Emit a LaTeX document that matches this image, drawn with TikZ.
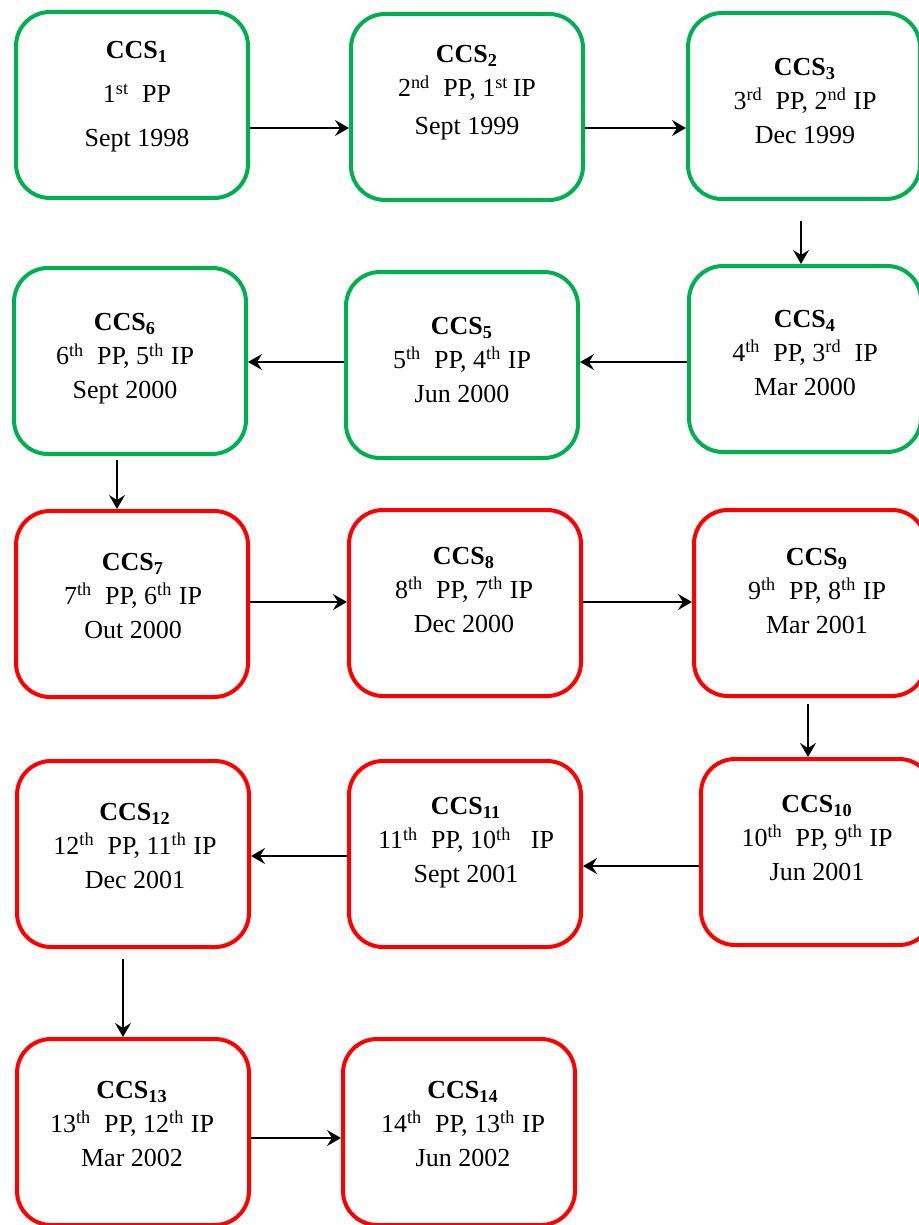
\documentclass[tikz,border=0pt]{standalone}
\usepackage{fontspec}
\setmainfont{Liberation Serif}
\usetikzlibrary{arrows.meta}
\definecolor{ccsgreen}{RGB}{0,176,80}
\definecolor{ccsred}{RGB}{255,0,0}
\newcommand{\ccs}[1]{\textbf{CCS\textsubscript{#1}}}
\newcommand{\nth}[2]{#1\textsuperscript{#2}}
\tikzset{
  ccsbox/.style={draw,line width=2pt,rounded corners=17pt,minimum width=116pt,minimum height=93pt},
  early/.style={ccsbox,draw=ccsgreen},
  late/.style={ccsbox,draw=ccsred},
  info/.style={align=center,inner sep=0pt,font=\fontsize{13}{17}\selectfont},
  flow/.style={-{Stealth[length=7pt,width=8pt,inset=2.5pt]},line width=1pt}
}
\begin{document}
\begin{tikzpicture}[x=0.5pt,y=-0.5pt]
\useasboundingbox (0,0) rectangle (918,1225);
% boxes
\node[early](c1) at (132,105) {};
\node[early](c2) at (467,107) {};
\node[early](c3) at (804,106) {};
\node[early](c4) at (805,359) {};
\node[early](c5) at (462,365) {};
\node[early](c6) at (130,361) {};
\node[late](c7) at (132,604) {};
\node[late](c8) at (465,603) {};
\node[late](c9) at (810,603) {};
\node[late](c10) at (817,852) {};
\node[late](c11) at (465,854) {};
\node[late](c12) at (133,854) {};
\node[late](c13) at (133,1132) {};
\node[late](c14) at (459,1132) {};
% texts
\node[info](t1) at (137,97) {\ccs{1}\\[5pt] \nth{1}{st}\ \ PP\\[5pt] Sept 1998};
\node[info](t2) at (467,93) {\ccs{2}\\ \nth{2}{nd}\ \ PP, \nth{1}{st}\,IP\\[2pt] Sept 1999};
\node[info](t3) at (805,101) {\ccs{3}\\ \nth{3}{rd}\ \ PP, \nth{2}{nd}\ IP\\ Dec 1999};
\node[info](t4) at (805,353) {\ccs{4}\\ \nth{4}{th}\ \ PP, \nth{3}{rd}\ \ IP\\ Mar 2000};
\node[info](t5) at (462,360) {\ccs{5}\\ \nth{5}{th}\ \ PP, \nth{4}{th}\ IP\\ Jun 2000};
\node[info](t6) at (125,359) {\ccs{6}\\ \nth{6}{th}\ \ PP, \nth{5}{th}\ IP\\ Sept 2000};
\node[info](t7) at (133,596) {\ccs{7}\\ \nth{7}{th}\ \ PP, \nth{6}{th}\ IP\\ Out 2000};
\node[info](t8) at (464,590) {\ccs{8}\\ \nth{8}{th}\ \ PP, \nth{7}{th}\ IP\\ Dec 2000};
\node[info](t9) at (817,591) {\ccs{9}\\ \nth{9}{th}\ \ PP, \nth{8}{th}\ IP\\ Mar 2001};
\node[info](t10) at (817,838) {\ccs{10}\\ \nth{10}{th}\ \ PP, \nth{9}{th}\ IP\\ Jun 2001};
\node[info](t11) at (466,843) {\ccs{11}\\ \nth{11}{th}\ \ PP, \nth{10}{th}\ \ \ IP\\ Sept 2001};
\node[info](t12) at (135,846) {\ccs{12}\\ \nth{12}{th}\ \ PP, \nth{11}{th}\ IP\\ Dec 2001};
\node[info](t13) at (132,1124) {\ccs{13}\\ \nth{13}{th}\ \ PP, \nth{12}{th}\ IP\\ Mar 2002};
\node[info](t14) at (463,1124) {\ccs{14}\\ \nth{14}{th}\ \ PP, \nth{13}{th}\ IP\\ Jun 2002};
% arrows
\draw[flow] (c1.east |- 0,128) -- (c2.west |- 0,128);
\draw[flow] (c2.east |- 0,128) -- (c3.west |- 0,128);
\draw[flow,shorten <=10pt] (c3.south -| 801,0) -- (c4.north -| 801,0);
\draw[flow] (c4.west |- 0,362) -- (c5.east |- 0,362);
\draw[flow] (c5.west |- 0,362) -- (c6.east |- 0,362);
\draw[flow,shorten <=2pt] (c6.south -| 117,0) -- (c7.north -| 117,0);
\draw[flow] (c7.east |- 0,602) -- (c8.west |- 0,602);
\draw[flow] (c8.east |- 0,602) -- (c9.west |- 0,602);
\draw[flow,shorten <=3pt] (c9.south -| 808,0) -- (c10.north -| 808,0);
\draw[flow] (c10.west |- 0,866) -- (c11.east |- 0,866);
\draw[flow] (c11.west |- 0,856) -- (c12.east |- 0,856);
\draw[flow,shorten <=5pt] (c12.south -| 123,0) -- (c13.north -| 123,0);
\draw[flow] (c13.east |- 0,1138) -- (c14.west |- 0,1138);
\end{tikzpicture}
\end{document}
